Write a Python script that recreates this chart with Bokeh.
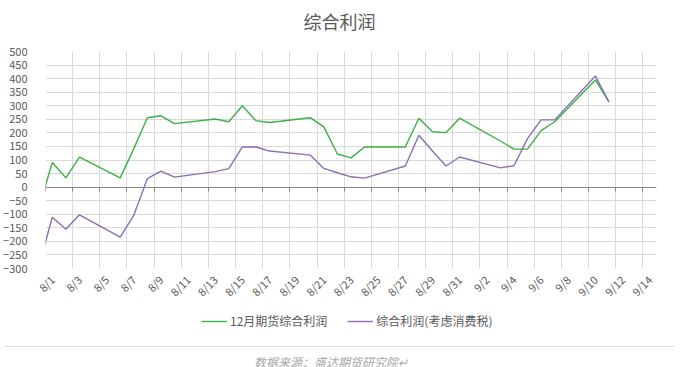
import math
import pandas as pd
from bokeh.plotting import figure
from bokeh.models import Range1d, FixedTicker, Legend, LegendItem, Div, LinearAxis
from bokeh.layouts import column
from bokeh.embed import file_html
from bokeh.resources import INLINE

# ---- data ----
dates = ["2018-07-31", "2018-08-01", "2018-08-02", "2018-08-03", "2018-08-06", "2018-08-07",
         "2018-08-08", "2018-08-09", "2018-08-10", "2018-08-13", "2018-08-14", "2018-08-15",
         "2018-08-16", "2018-08-17", "2018-08-20", "2018-08-21", "2018-08-22", "2018-08-23",
         "2018-08-24", "2018-08-27", "2018-08-28", "2018-08-29", "2018-08-30", "2018-08-31",
         "2018-09-03", "2018-09-04", "2018-09-05", "2018-09-06", "2018-09-07", "2018-09-10",
         "2018-09-11"]
futures_profit = [-79, 91, 34, 111, 34, 141,
                  256, 263, 234, 251, 241, 300,
                  245, 238, 256, 222, 122, 108,
                  148, 148, 254, 204, 201, 254,
                  170, 140, 140, 208, 241, 395,
                  314]
profit_with_tax = [-293, -111, -155, -102, -184, -104,
                   31, 59, 37, 57, 68, 148,
                   148, 133, 118, 69, 53, 38,
                   33, 78, 191, 133, 78, 111,
                   71, 79, 179, 248, 248, 410,
                   314]
series_names = ["12月期货综合利润", "综合利润(考虑消费税)"]
tick_labels = ["8/1", "8/3", "8/5", "8/7", "8/9", "8/11", "8/13", "8/15", "8/17", "8/19",
               "8/21", "8/23", "8/25", "8/27", "8/29", "8/31", "9/2", "9/4", "9/6", "9/8",
               "9/10", "9/12", "9/14"]
y_ticks = [-300, -250, -200, -150, -100, -50, 0, 50, 100, 150, 200, 250, 300, 350, 400, 450, 500]
title_text = "综合利润"
source_text = "数据来源：盛达期货研究院↵"
year = 2018

GREEN = "#3cb043"
PURPLE = "#8a6fb5"
TEXT = "#595959"
GRID = "#d9d9d9"
AXIS = "#868686"
FONT = "Noto Sans CJK SC"
W = 669

# ---- positions (date axis: each day is a slot, points sit in the slot middle) ----
axis_start = pd.Timestamp(f"{year}/{tick_labels[0]}")
x = [(pd.Timestamp(d) - axis_start).days + 0.5 for d in dates]
boundaries = [float((pd.Timestamp(f"{year}/{t}") - axis_start).days) for t in tick_labels]
label_pos = [b + 0.5 for b in boundaries]
x_end = boundaries[-1] + 1

# ---- title ----
title_div = Div(text=f'<div style="width:{W}px;text-align:center;padding-top:3px;font-size:18px;'
                     f'line-height:26px;color:{TEXT};font-family:\'{FONT}\';white-space:nowrap;">'
                     f'{title_text}</div>',
                width=W, height=32)

# ---- main chart ----
p = figure(width=W, height=266,
           x_range=Range1d(0, x_end), y_range=Range1d(y_ticks[0], y_ticks[-1]),
           output_backend="svg", toolbar_location=None,
           min_border_left=35, min_border_right=13, min_border_top=9, min_border_bottom=40)
p.outline_line_color = None
p.background_fill_color = "white"
p.border_fill_color = "white"
p.title.text = ""

# bottom axis: labels only
xa = p.xaxis[0]
xa.ticker = FixedTicker(ticks=label_pos)
xa.major_label_overrides = {pos: lbl for pos, lbl in zip(label_pos, tick_labels)}
xa.major_label_orientation = math.pi / 4
xa.axis_line_color = None
xa.major_tick_line_color = None
xa.minor_tick_line_color = None
xa.major_label_standoff = 3
xa.major_label_text_font = FONT
xa.major_label_text_font_size = "11px"
xa.major_label_text_color = TEXT

# zero line with small tick marks
zero_axis = LinearAxis(fixed_location=0, ticker=FixedTicker(ticks=boundaries),
                       axis_line_color=AXIS, axis_line_width=1,
                       major_tick_line_color=AXIS, major_tick_in=4, major_tick_out=0,
                       minor_tick_line_color=None,
                       major_label_overrides={b: "" for b in boundaries},
                       major_label_text_font_size="1px", major_label_standoff=0)
p.add_layout(zero_axis, "above")

# y axis
ya = p.yaxis[0]
ya.ticker = FixedTicker(ticks=y_ticks)
ya.axis_line_color = None
ya.major_tick_line_color = None
ya.minor_tick_line_color = None
ya.major_label_standoff = 12
ya.major_label_text_font = FONT
ya.major_label_text_font_size = "11px"
ya.major_label_text_color = TEXT

# grids
p.xgrid.ticker = FixedTicker(ticks=boundaries)
p.xgrid.grid_line_color = GRID
p.ygrid.ticker = FixedTicker(ticks=y_ticks)
p.ygrid.grid_line_color = GRID

p.line(x, futures_profit, line_color=GREEN, line_width=1.4)
p.line(x, profit_with_tax, line_color=PURPLE, line_width=1.4)

# ---- legend strip below the chart (renderers hidden, only their legend keys are shown) ----
lg = figure(width=W, height=33, output_backend="svg", toolbar_location=None,
            x_axis_type=None, y_axis_type=None,
            min_border=0, min_border_left=0, min_border_right=0,
            min_border_top=0, min_border_bottom=0)
lg.outline_line_color = None
lg.grid.visible = False
k1 = lg.line(x, futures_profit, line_color=GREEN, line_width=1.4, visible=False)
k2 = lg.line(x, profit_with_tax, line_color=PURPLE, line_width=1.4, visible=False)
legend = Legend(items=[LegendItem(label=series_names[0], renderers=[k1]),
                       LegendItem(label=series_names[1], renderers=[k2])],
                orientation="horizontal", location=(156, 12),
                glyph_width=26, glyph_height=14, label_standoff=3, spacing=20,
                padding=0, margin=0, border_line_color=None, background_fill_alpha=0,
                inactive_fill_alpha=0,
                label_text_font=FONT, label_text_font_size="12px", label_text_color=TEXT)
lg.add_layout(legend, "center")

# ---- source note ----
src = Div(text=f'<div style="padding-left:249px;padding-top:7px;font-style:italic;font-size:12px;'
               f'line-height:16px;color:#a6a6a6;font-family:\'{FONT}\';white-space:nowrap;">'
               f'{source_text}</div>',
          width=W, height=22, styles={"border-top": "1px solid #d9d9d9"})

layout = column(title_div, p, lg, src, spacing=0)
open("out.html", "w").write(file_html(layout, INLINE))
